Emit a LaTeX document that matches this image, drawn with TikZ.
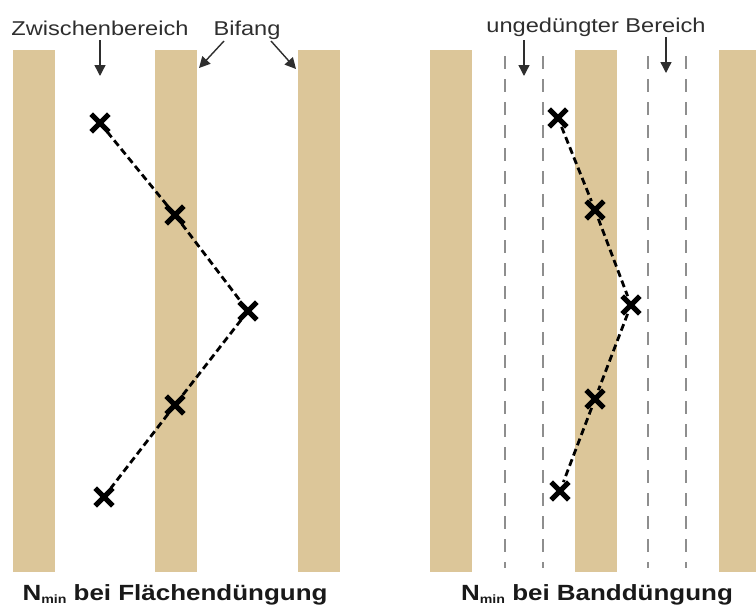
\documentclass[tikz,border=0pt]{standalone}
\usepackage{fontspec}
\setmainfont{Liberation Sans}[FakeStretch=1.18]
\usetikzlibrary{arrows.meta,shapes.misc}
\definecolor{bifang}{HTML}{DCC699}
\definecolor{grau}{HTML}{8E8E8E}
\definecolor{schrift}{HTML}{2E2E2E}

\begin{document}
\begin{tikzpicture}[x=1pt,y=-1pt,>={Triangle[length=11pt,width=11pt]},
		kreuz/.style={cross out,draw=black,line width=5.2pt,minimum size=12.5pt,inner sep=0pt},
		weg/.style={line width=2.8pt,dash pattern=on 7pt off 4pt},
		rand/.style={grau,line width=2.8pt,dash pattern=on 13pt off 10pt},
		zeiger/.style={->,draw=schrift,line width=1.4pt},
		beschr/.style={font=\fontsize{20}{21}\selectfont,text=schrift,inner sep=0pt,anchor=base},
		titel/.style={font=\fontsize{22}{24}\selectfont\bfseries,text=black!90,inner sep=0pt,anchor=base}]
			\useasboundingbox (0,0) rectangle (756,608);
			% Bifang-Streifen
			\foreach \x in {13,155,298,430,575} \fill[bifang] (\x,50) rectangle ++(42,522);
			\fill[bifang] (719,50) rectangle (756,572);
			% ungeduengte Bereiche
			\foreach \x in {505,543,648,686} \draw[rand] (\x,56) -- (\x,568);
			% Beschriftung oben
			\node[beschr] (zwb) at (100,35) {Zwischenbereich};
			\node[beschr] (bif) at (247,35) {Bifang};
			\node[beschr] (ugb) at (596,32) {ungedüngter Bereich};
			\coordinate (zwb-s) at (100,40);
			\coordinate (zwb-e) at (100,76);
			\coordinate (bif-l) at (224,41);
			\coordinate (bif-le) at (199,68);
			\coordinate (bif-r) at (271,41);
			\coordinate (bif-re) at (296,69);
			\coordinate (ugb-l) at (524,40);
			\coordinate (ugb-le) at (524,76);
			\coordinate (ugb-r) at (666,37);
			\coordinate (ugb-re) at (666,73);
			\draw[zeiger] (zwb-s) -- (zwb-e);
			\draw[zeiger] (bif-l) -- (bif-le);
			\draw[zeiger] (bif-r) -- (bif-re);
			\draw[zeiger] (ugb-l) -- (ugb-le);
			\draw[zeiger] (ugb-r) -- (ugb-re);
			% Probenahmepunkte Flaechenduengung
			\node[kreuz] (f1) at (100,123) {};
			\node[kreuz] (f2) at (175,215) {};
			\node[kreuz] (f3) at (248,311) {};
			\node[kreuz] (f4) at (175,405) {};
			\node[kreuz] (f5) at (104,497) {};
			\draw[weg] (f1) -- (f2) -- (f3) -- (f4) -- (f5);
			% Probenahmepunkte Bandduengung
			\node[kreuz] (b1) at (558,118) {};
			\node[kreuz] (b2) at (595,210) {};
			\node[kreuz] (b3) at (631,305) {};
			\node[kreuz] (b4) at (595,399) {};
			\node[kreuz] (b5) at (560,491) {};
			\draw[weg] (b1) -- (b2) -- (b3) -- (b4) -- (b5);
			% Titel
			\node[titel] (tf) at (175,600) {N\raisebox{-0.3ex}{\fontsize{12}{12}\selectfont min} bei Flächendüngung};
			\node[titel] (tb) at (597,600) {N\raisebox{-0.3ex}{\fontsize{12}{12}\selectfont min} bei Banddüngung};
		\end{tikzpicture}
\end{document}
